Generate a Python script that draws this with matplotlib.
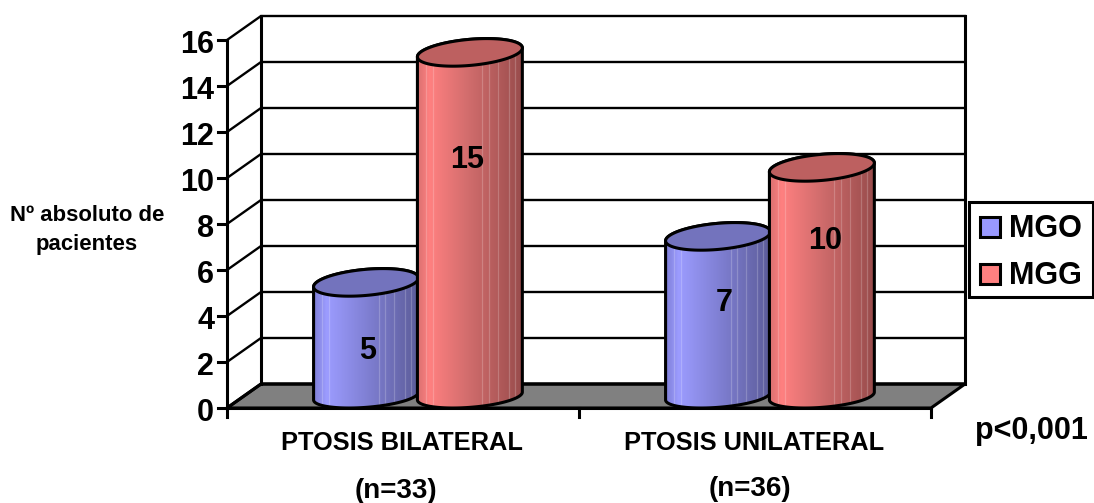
import numpy as np
import matplotlib
matplotlib.use('Agg')
import matplotlib.pyplot as plt
from matplotlib.colors import LinearSegmentedColormap
from matplotlib.patches import Polygon, Rectangle

plt.rcParams['font.family'] = ['Liberation Sans', 'DejaVu Sans']
plt.rcParams['font.weight'] = 'bold'

# Data
categories = ['PTOSIS BILATERAL', 'PTOSIS UNILATERAL']
sample_sizes = ['(n=33)', '(n=36)']
series_names = ['MGO', 'MGG']
mgo = [5, 7]
mgg = [15, 10]
y_ticks = [0, 2, 4, 6, 8, 10, 12, 14, 16]

W, H = 1094, 503
X0, X1, Y0, Y1 = 227, 931, 408, 40  # front plane in pixels

fig = plt.figure(figsize=(W / 100, H / 100), dpi=100)
ax = fig.add_axes([X0 / W, 1 - Y0 / H, (X1 - X0) / W, (Y0 - Y1) / H])
ax.set_xlim(0, len(categories))
ax.set_ylim(0, y_ticks[-1])
ax.axis('off')

# depth of the fake 3D box, in data units
dx = 34 / ((X1 - X0) / len(categories))
dy = 24 / ((Y0 - Y1) / y_ticks[-1])
xmax, ymax = len(categories), y_ticks[-1]
LW = 2.2

# walls, floor and grid
ax.add_patch(Polygon([(0, 0), (dx, dy), (xmax + dx, dy), (xmax, 0)],
                     fc='#808080', ec='black', lw=LW, zorder=1, clip_on=False))
for v in y_ticks:
    ax.plot([0, dx, xmax + dx], [v, v + dy, v + dy], color='black',
            lw=LW if v == 0 else 1.7, zorder=1.5, clip_on=False, solid_joinstyle='miter')
ax.plot([dx, dx], [dy, ymax + dy], color='black', lw=LW, zorder=1.5, clip_on=False)
ax.plot([xmax + dx, xmax + dx], [dy, ymax + dy], color='black', lw=LW, zorder=1.5, clip_on=False)
ax.plot([0, 0], [0, ymax], color='black', lw=LW, zorder=1.5, clip_on=False)
ax.plot([0, xmax], [0, 0], color='black', lw=LW, zorder=1.5, clip_on=False)

# tick marks and labels
for v in y_ticks:
    ax.plot([-9 / 352, 0], [v, v], color='black', lw=LW, zorder=1.5, clip_on=False)
    ax.text(-13 / 352, v - 0.22, str(v), ha='right', va='center', fontsize=22, color='black')
for i in range(len(categories) + 1):
    ax.plot([i, i], [0, -0.4], color='black', lw=LW, zorder=1.5, clip_on=False)
name_x = [0.497, 1.497]
size_x = [0.479, 1.486]
size_y = [-3.62, -3.5]
for i, name in enumerate(categories):
    ax.text(name_x[i], -1.53, name, ha='center', va='center', fontsize=18.3)
    ax.text(size_x[i], size_y[i], sample_sizes[i], ha='center', va='center', fontsize=20)


def ring(cx, level, half_w, ts, k=1.0):
    # points of a round slice in the sheared floor plane
    xs = cx + half_w * np.cos(ts) + dx / 2 * np.sin(ts)
    ys = level + dy / 2 + dy / 2 * k * np.sin(ts)
    return xs, ys


def cylinder(cx, value, half_w, cmap, top_color, z):
    ts = np.linspace(0, 2 * np.pi, 200)
    xt, yt = ring(cx, value - 0.06, half_w, ts, 1.15)
    xb, yb = ring(cx, 0, half_w, ts)
    xl = xt.min()
    xr = xt.max()
    # body outline runs from the base ring to the top ring
    tr = np.arctan2(dx / 2, half_w)
    low = np.linspace(tr + np.pi, tr + 2 * np.pi, 100)
    xlow, ylow = ring(cx, 0, half_w, low)
    up = np.linspace(tr, tr + np.pi, 100)
    xup, yup = ring(cx, value - 0.06, half_w, up, 1.15)
    body = np.column_stack([np.r_[xlow, xup], np.r_[ylow, yup]])
    ax.add_patch(Polygon(body, closed=True, fc='none', ec='black', lw=LW, zorder=z + 0.2, clip_on=False))
    grad = np.linspace(0, 1, 256).reshape(1, -1)
    im = ax.imshow(grad, extent=[xl, xr, yb.min(), yt.max()], cmap=cmap, aspect='auto',
                   zorder=z, vmin=0, vmax=1)
    im.set_clip_path(Polygon(body, closed=True, transform=ax.transData))
    # faint vertical streaks on the shaded body
    for f in [0.08, 0.15, 0.62, 0.68, 0.77, 0.87, 0.93]:
        xs = xl + f * (xr - xl)
        line, = ax.plot([xs, xs], [yb.min(), yt.max()], color='white', alpha=0.2, lw=0.9, zorder=z + 0.1)
        line.set_clip_path(Polygon(body, closed=True, transform=ax.transData))
    ax.fill(xt, yt, fc=top_color, ec='black', lw=LW, zorder=z + 0.3, clip_on=False)


half_w = 0.141
blue_map = LinearSegmentedColormap.from_list('b', [(0, '#8080D8'), (0.12, '#9C9CFF'), (0.5, '#8080D4'), (1, '#5C5C99')])
red_map = LinearSegmentedColormap.from_list('r', [(0, '#D87070'), (0.12, '#FF8080'), (0.5, '#D06C6C'), (1, '#994C4C')])
offs = [0.395, 0.69]
# where the value labels sit (x in category units, y in value units)
mgo_label = [(0.398, 2.47), (1.412, 4.58)]
mgg_label = [(0.682, 10.8), (1.698, 7.28)]
for i in range(len(categories)):
    cylinder(i + offs[0], mgo[i], half_w, blue_map, '#7373BD', 3)
    cylinder(i + offs[1], mgg[i], half_w, red_map, '#BD6060', 4)
    ax.text(*mgo_label[i], str(mgo[i]), ha='center', va='center', fontsize=22, zorder=6)
    ax.text(*mgg_label[i], str(mgg[i]), ha='center', va='center', fontsize=22, zorder=6)
ax.set_xlim(0, len(categories))
ax.set_ylim(0, y_ticks[-1])

# legend, drawn by hand to sit against the right edge
fig.add_artist(Rectangle((969 / W, 1 - 297 / H), 124 / W, 95 / H, transform=fig.transFigure,
                         fc='white', ec='black', lw=LW))
for name, color, yp in zip(series_names, ['#9999FF', '#FF8080'], [227, 274]):
    fig.add_artist(Rectangle((980 / W, 1 - (yp + 10) / H), 20 / W, 20 / H, transform=fig.transFigure,
                             fc=color, ec='black', lw=LW))
    fig.text(1009 / W, 1 - (yp + 2) / H, name, ha='left', va='center', fontsize=22)

fig.text(87 / W, 1 - 230 / H, 'Nº absoluto de\npacientes', ha='center', va='center',
         fontsize=15.9, linespacing=1.55)
fig.text(1031 / W, 1 - 431 / H, 'p<0,001', ha='center', va='center', fontsize=22)

fig.savefig('out.png', dpi=100)
